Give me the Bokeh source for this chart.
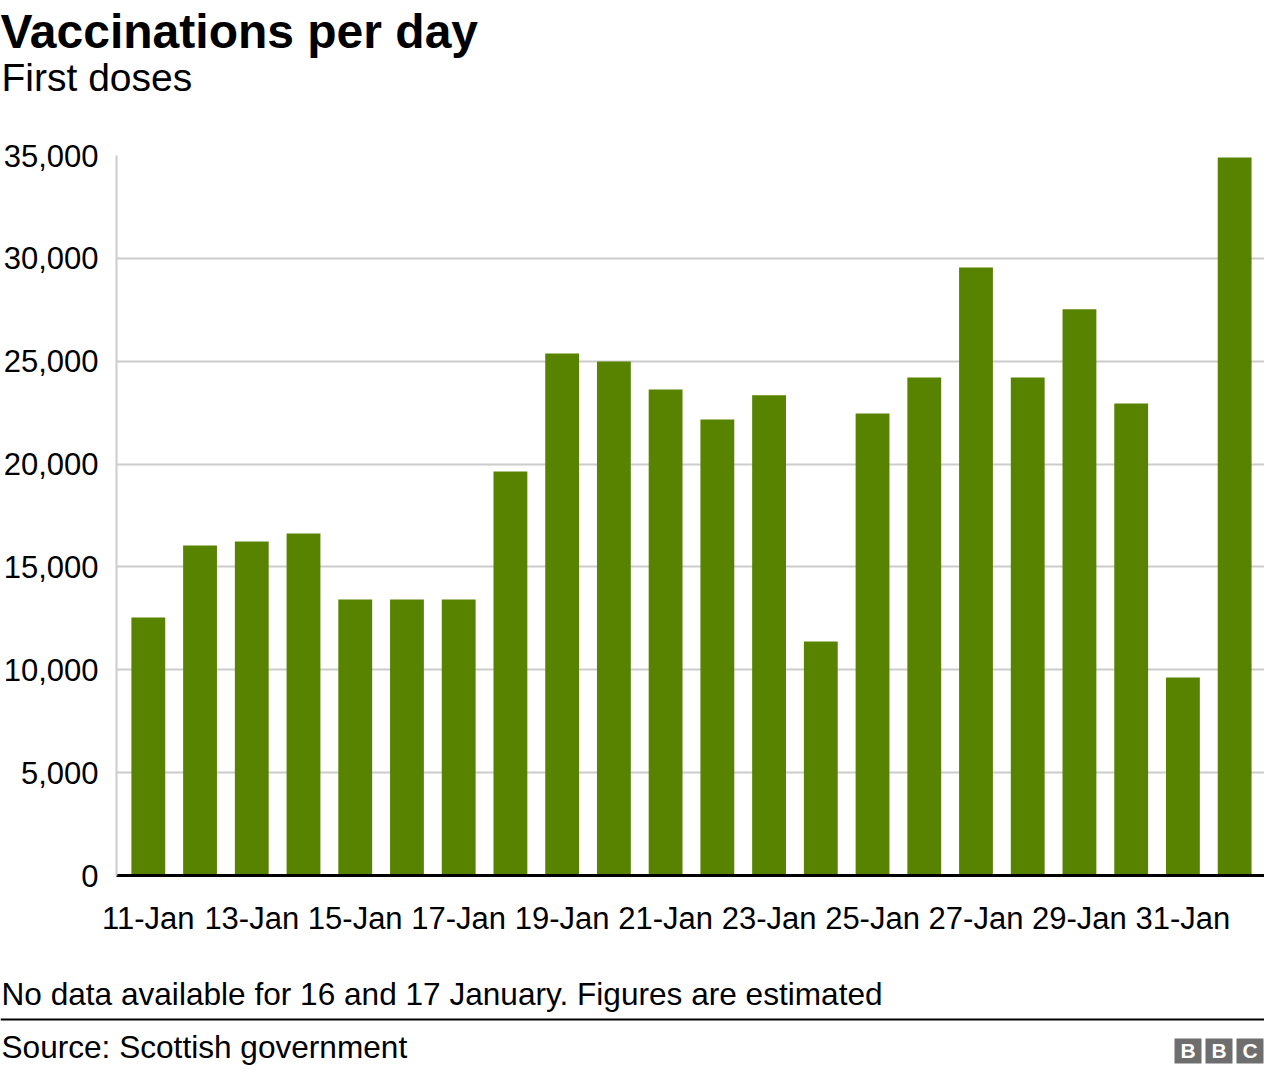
from bokeh.plotting import figure
from bokeh.layouts import column
from bokeh.models import Range1d, FixedTicker, Label, BoxAnnotation, NumeralTickFormatter
from bokeh.embed import file_html
from bokeh.resources import INLINE

dates = ["11-Jan", "12-Jan", "13-Jan", "14-Jan", "15-Jan", "16-Jan", "17-Jan", "18-Jan",
         "19-Jan", "20-Jan", "21-Jan", "22-Jan", "23-Jan", "24-Jan", "25-Jan", "26-Jan",
         "27-Jan", "28-Jan", "29-Jan", "30-Jan", "31-Jan", "1-Feb"]
first_doses = [12540, 16040, 16240, 16630, 13420, 13420, 13420, 19640, 25380, 24990, 23630,
               22170, 23340, 11380, 22460, 24210, 29560, 24210, 27520, 22950, 9630, 34900]
y_ticks = [0, 5000, 10000, 15000, 20000, 25000, 30000, 35000]

title_text = "Vaccinations per day"
subtitle_text = "First doses"
note_text = "No data available for 16 and 17 January. Figures are estimated"
source_text = "Source: Scottish government"

W = 1264
FONT = "Liberation Sans"
BAR = "#588300"

# vertical bands in reference pixels
HEAD_TOP, HEAD_BOT = 0, 110
MAIN_BOT = 950
FOOT_BOT = 1066
FL, FT, FB = 118, 155, 875   # plot frame left/top/bottom in reference pixels
BASE_FIX = 0.36              # label vertical correction (fraction of font size)


def blank(h):
    f = figure(width=W, height=h, output_backend="svg", toolbar_location=None,
               x_range=Range1d(0, W), y_range=Range1d(0, h),
               x_axis_location=None, y_axis_location=None,
               min_border=0, min_border_left=0, min_border_right=0,
               min_border_top=0, min_border_bottom=0, frame_align=False)
    f.grid.visible = False
    f.outline_line_color = None
    f.background_fill_color = "white"
    f.border_fill_color = "white"
    return f


def lab(f, bottom, text, px, py, size, bold=False, color="black", align="left"):
    fs = float(size.replace("px", ""))
    f.add_layout(Label(x=px - 8, y=bottom - py + BASE_FIX * fs, text=text, text_font=FONT,
                       text_font_size=size, text_color=color,
                       text_font_style="bold" if bold else "normal",
                       text_baseline="alphabetic", text_align=align))


def box(f, bottom, l, r, t, b, color):
    f.add_layout(BoxAnnotation(left=l - 8, right=r - 8, top=bottom - t, bottom=bottom - b,
                               fill_color=color, fill_alpha=1, line_color=None))


# header
head = blank(HEAD_BOT - HEAD_TOP)
lab(head, HEAD_BOT, title_text, 8, 48, "48px", bold=True)
lab(head, HEAD_BOT, subtitle_text, 9, 91, "39px")

# main chart
main_h = MAIN_BOT - HEAD_BOT
p = figure(width=W, height=main_h, output_backend="svg", toolbar_location=None,
           x_range=Range1d(-0.615, 21.577), y_range=Range1d(0, 35000),
           min_border_left=FL - 8, min_border_right=0, min_border_top=FT - HEAD_BOT,
           min_border_bottom=MAIN_BOT - FB, frame_align=False)
p.outline_line_color = None
p.background_fill_color = "white"
p.border_fill_color = "white"

xs = list(range(len(dates)))
p.vbar(x=xs, top=first_doses, width=0.654, color=BAR, line_color=None)

xa = p.xaxis[0]
xa.ticker = FixedTicker(ticks=xs[::2])
xa.major_label_overrides = {i: dates[i] for i in xs}
xa.axis_line_color = "black"
xa.axis_line_width = 3
xa.major_tick_line_color = None
xa.minor_tick_line_color = None
xa.major_label_text_font = FONT
xa.major_label_text_font_size = "31px"
xa.major_label_text_color = "black"
xa.major_label_standoff = 19

ya = p.yaxis[0]
ya.ticker = FixedTicker(ticks=y_ticks)
ya.formatter = NumeralTickFormatter(format="0,0")
ya.axis_line_color = "#cccccc"
ya.axis_line_width = 2
ya.major_tick_line_color = None
ya.minor_tick_line_color = None
ya.major_label_text_font = FONT
ya.major_label_text_font_size = "31px"
ya.major_label_text_color = "black"
ya.major_label_standoff = 12

p.xgrid.grid_line_color = None
p.ygrid.grid_line_color = "#cccccc"
p.ygrid.grid_line_width = 2

# footer
foot = blank(FOOT_BOT - MAIN_BOT)
lab(foot, FOOT_BOT, note_text, 9, 1005, "31.6px")
box(foot, FOOT_BOT, 8, 1272, 1018, 1020, "black")
lab(foot, FOOT_BOT, source_text, 9, 1058, "31.6px")
for i, letter in enumerate(["B", "B", "C"]):
    x0 = 1182 + i * 31
    box(foot, FOOT_BOT, x0, x0 + 27, 1038, 1063, "#6e6e6e")
    lab(foot, FOOT_BOT, letter, x0 + 13.5, 1058, "21px", bold=True, color="white", align="center")

layout = column(head, p, foot, spacing=0)
open("out.html", "w").write(file_html(layout, INLINE))
